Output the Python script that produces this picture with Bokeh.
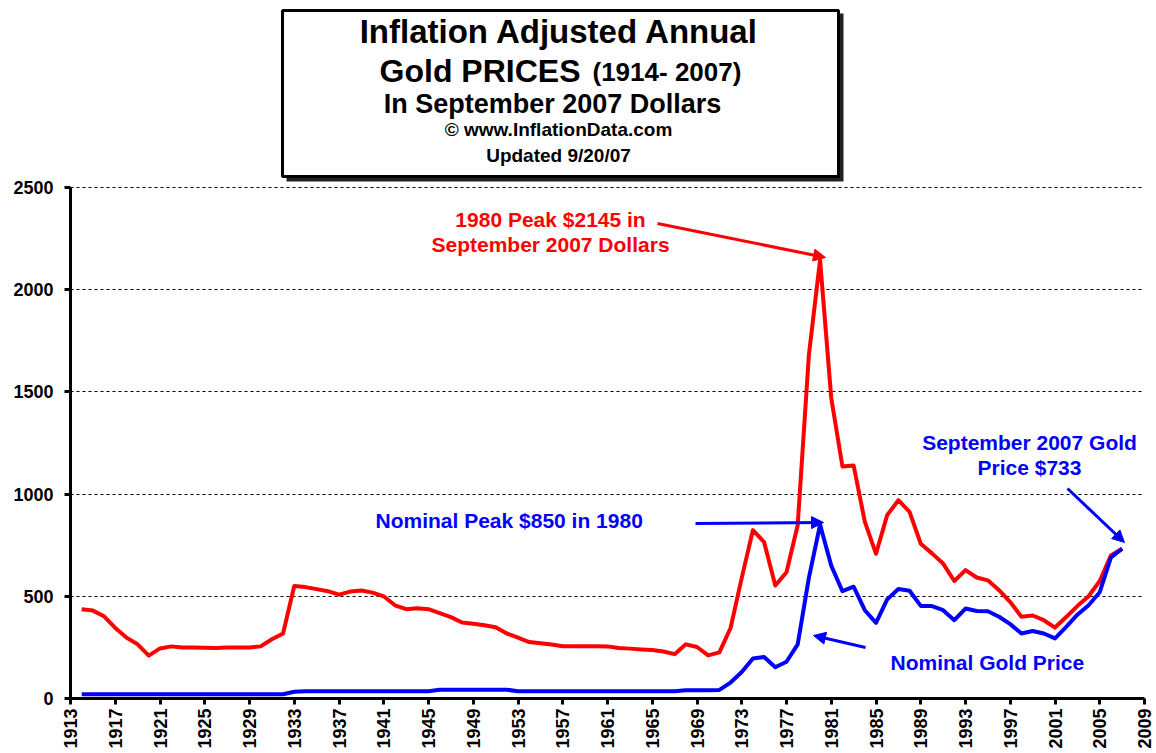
import math
from bokeh.plotting import figure
from bokeh.models import Range1d, FixedTicker, Arrow, NormalHead, Label
from bokeh.embed import file_html
from bokeh.resources import INLINE

# ---------------- data ----------------
years = list(range(1914, 2008))
real_prices = [
    437, 430, 402, 345, 298, 265, 210, 245, 255, 250,   # 1914-1923
    250, 248, 247, 249, 250, 250, 255, 290, 318, 550,   # 1924-1933
    545, 535, 525, 508, 523, 528, 518, 500, 456, 437,   # 1934-1943
    442, 437, 418, 398, 372, 366, 358, 349, 318, 298,   # 1944-1953
    276, 270, 264, 256, 256, 256, 256, 255, 247, 244,   # 1954-1963
    240, 237, 230, 217, 265, 252, 211, 226, 345, 590,   # 1964-1973
    824, 765, 553, 618, 848, 1680, 2145, 1470, 1135, 1140,  # 1974-1983
    865, 708, 897, 970, 913, 757, 710, 660, 575, 628,   # 1984-1993
    592, 578, 530, 472, 400, 406, 383, 347, 399, 452,   # 1994-2003
    500, 575, 700, 733,                                 # 2004-2007
]
nominal_prices = [
    21, 21, 21, 21, 21, 21, 21, 21, 21, 21,             # 1914-1923
    21, 21, 21, 21, 21, 21, 21, 21, 21, 33,             # 1924-1933
    35, 35, 35, 35, 35, 35, 35, 35, 35, 35,             # 1934-1943
    35, 35, 43, 43, 43, 43, 43, 43, 43, 35,             # 1944-1953
    35, 35, 35, 35, 35, 35, 35, 35, 35, 35,             # 1954-1963
    35, 35, 35, 35, 40, 40, 40, 42, 78, 130,            # 1964-1973
    196, 203, 153, 180, 265, 590, 850, 650, 525, 547,   # 1974-1983
    432, 370, 485, 536, 527, 453, 452, 432, 383, 440,   # 1984-1993
    428, 427, 400, 364, 318, 330, 318, 294, 350, 410,   # 1994-2003
    456, 520, 690, 733,                                 # 2004-2007
]
x_ticks = list(range(1913, 2010, 4))
y_ticks = [0, 500, 1000, 1500, 2000, 2500]

# ---------------- layout ----------------
FRAME_W, FRAME_H = 1074, 690
LEFT, TOP, RIGHT, BOTTOM = 70, 8, 12, 49
X0, X1 = 1913, 2009
Y_TOP = 2500 * FRAME_H / 511.0
FONT = "Liberation Sans"


def px(xp):
    # page x (pixels) -> data x
    return X0 + (xp - LEFT) * (X1 - X0) / FRAME_W


def py(yp):
    # page y (pixels) -> data y
    return (TOP + FRAME_H - yp) * Y_TOP / FRAME_H


p = figure(frame_width=FRAME_W, frame_height=FRAME_H,
           x_range=Range1d(X0, X1), y_range=Range1d(0, Y_TOP),
           output_backend="svg", toolbar_location=None,
           min_border_left=LEFT, min_border_right=RIGHT, min_border_top=TOP,
           min_border_bottom=BOTTOM,
           background_fill_color="white", border_fill_color="white",
           outline_line_color=None)

# axes
p.yaxis.ticker = FixedTicker(ticks=y_ticks)
p.yaxis.bounds = (0, 2500)
p.xaxis.ticker = FixedTicker(ticks=x_ticks)
p.xaxis.major_label_overrides = {t: str(t) for t in x_ticks}
p.yaxis.major_label_overrides = {t: str(t) for t in y_ticks}
p.xaxis.major_label_orientation = math.pi / 2
for ax in (p.xaxis, p.yaxis):
    ax.axis_line_width = 3
    ax.axis_line_color = "black"
    ax.major_tick_line_width = 3
    ax.major_tick_line_color = "black"
    ax.major_tick_out = 6
    ax.major_tick_in = 0
    ax.minor_tick_line_color = None
    ax.major_label_text_font = FONT
    ax.major_label_text_font_style = "bold"
    ax.major_label_text_color = "black"
p.yaxis.major_label_text_font_size = "18px"
p.xaxis.major_label_text_font_size = "18px"
p.yaxis.major_label_standoff = 11
p.xaxis.major_label_standoff = 4

# grid
p.xgrid.visible = False
p.ygrid.ticker = FixedTicker(ticks=y_ticks[1:])
p.ygrid.grid_line_color = "black"
p.ygrid.grid_line_width = 1
p.ygrid.grid_line_dash = "3 3"

# series
p.line(years, real_prices, line_color="#FF0000", line_width=4, line_join="round")
p.line(years, nominal_prices, line_color="#0000FF", line_width=4, line_join="round")

# title box
p.quad(left=px(286), right=px(843), top=py(13), bottom=py(181),
       fill_color="#222222", line_color=None)
p.quad(left=px(282), right=px(838), top=py(10), bottom=py(176),
       fill_color="white", line_color="black", line_width=3)


def label(x, y, text, size, color="black", align="center"):
    p.add_layout(Label(x=px(x), y=py(y), text=text, text_font=FONT,
                       text_font_style="bold", text_font_size=size,
                       text_color=color, text_align=align,
                       text_baseline="middle"))


label(559, 31, "Inflation Adjusted Annual", "33px")
label(580, 70, "Gold PRICES", "32px", align="right")
label(592, 71, "(1914- 2007)", "26px", align="left")
label(552, 103, "In September 2007 Dollars", "27px")
label(558, 129, "\u00a9 www.InflationData.com", "19px")
label(558, 155, "Updated 9/20/07", "19px")

# annotations
RED, BLUE = "#FF0000", "#0000FF"
label(550, 219, "1980 Peak $2145 in", "21px", RED)
label(550, 244, "September 2007 Dollars", "21px", RED)
label(375, 520, "Nominal Peak $850 in 1980", "21px", BLUE, align="left")
label(890, 662, "Nominal Gold Price", "21px", BLUE, align="left")
label(1029, 442, "September 2007 Gold", "21px", BLUE)
label(1029, 467, "Price $733", "21px", BLUE)


def arrow(x0, y0, x1, y1, color):
    p.add_layout(Arrow(x_start=px(x0), y_start=py(y0), x_end=px(x1), y_end=py(y1),
                       line_color=color, line_width=3,
                       end=NormalHead(size=12, fill_color=color, line_color=color,
                                      line_width=1)))


arrow(657, 223, 825, 257, RED)
arrow(695, 523, 823, 522, BLUE)
arrow(865, 647, 813, 635, BLUE)
arrow(1067, 488, 1124, 542, BLUE)

open("out.html", "w").write(file_html(p, INLINE))
